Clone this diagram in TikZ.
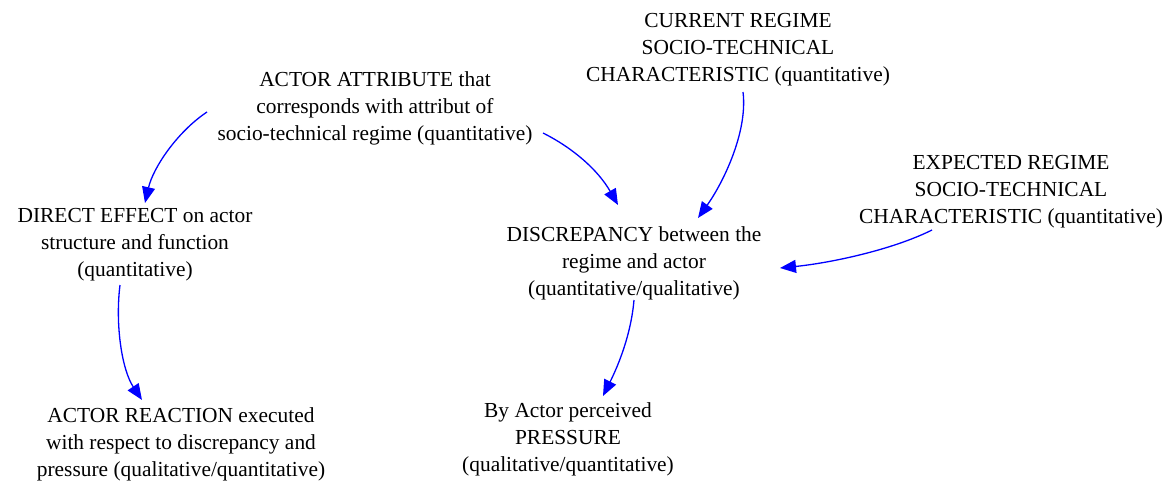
\documentclass[tikz,border=0pt]{standalone}
\usepackage{fontspec}
\setmainfont{Liberation Serif}
\usetikzlibrary{arrows.meta}
\tikzset{
  var/.style={align=center, inner sep=0pt, font=\fontsize{21.4}{27}\selectfont},
  link/.style={draw={rgb,255:red,0;green,0;blue,255}, line width=1.3pt,
    -{Triangle[length=16pt,width=13pt]}, fill=none}
}
\begin{document}
\begin{tikzpicture}[x=1pt,y=-1pt]
\useasboundingbox (0,0) rectangle (1176,482);

\node[var] (cur)  at (738,50)  {CURRENT REGIME\\SOCIO-TECHNICAL\\CHARACTERISTIC (quantitative)};
\node[var] (attr) at (375,108) {ACTOR ATTRIBUTE that\\corresponds with attribut of\\socio-technical regime (quantitative)};
\node[var] (exp)  at (1011,192) {EXPECTED REGIME\\SOCIO-TECHNICAL\\CHARACTERISTIC (quantitative)};
\node[var] (dir)  at (135,245) {DIRECT EFFECT on actor\\structure and function\\(quantitative)};
\node[var] (disc) at (634,263) {DISCREPANCY between the\\regime and actor\\(quantitative/qualitative)};
\node[var] (reac) at (181,444) {ACTOR REACTION executed\\with respect to discrepancy and\\pressure (qualitative/quantitative)};
\node[var] (pres) at (568,439) {By Actor perceived\\PRESSURE\\(qualitative/quantitative)};

% attachment points of the links
\coordinate (a1) at (207,112);
\coordinate (a2) at (145,203);
\coordinate (b1) at (543,133);
\coordinate (b2) at (618,205);
\coordinate (c1) at (743,92);
\coordinate (c2) at (698,218);
\coordinate (d1) at (932,230);
\coordinate (d2) at (780,268);
\coordinate (e1) at (120,285);
\coordinate (e2) at (142,400);
\coordinate (f1) at (634,300);
\coordinate (f2) at (603,396);

\draw[link] (a1) .. controls +(-30,20) and +(8,-35) .. (a2);
\draw[link] (b1) .. controls +(30,15) and +(-20,-35) .. (b2);
\draw[link] (c1) .. controls +(5,40) and +(25,-35) .. (c2);
\draw[link] (d1) .. controls +(-40,20) and +(50,-5) .. (d2);
\draw[link] (e1) .. controls +(-5,40) and +(-20,-30) .. (e2);
\draw[link] (f1) .. controls +(-3,35) and +(15,-30) .. (f2);
\end{tikzpicture}
\end{document}
